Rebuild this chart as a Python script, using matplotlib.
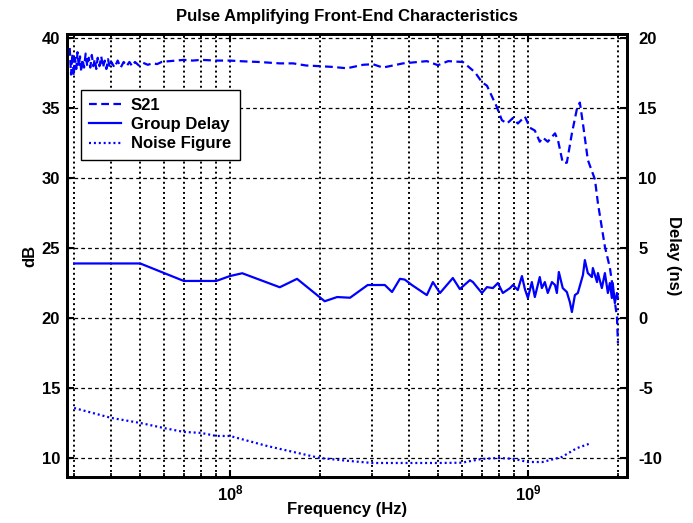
"""
Pulse amplifying front-end: S21, group delay and noise figure vs frequency
"""
import numpy as np
import matplotlib
matplotlib.use('Agg')
import matplotlib.pyplot as plt
from matplotlib.ticker import FixedLocator, NullFormatter

plt.rcParams['font.family'] = ['Liberation Sans', 'DejaVu Sans']
plt.rcParams['font.weight'] = 'bold'
plt.rcParams['axes.unicode_minus'] = False
plt.rcParams['mathtext.fontset'] = 'custom'
plt.rcParams['mathtext.bf'] = 'Liberation Sans:bold'
plt.rcParams['mathtext.rm'] = 'Liberation Sans:bold'

# S21 (dB), frequency in MHz
s21_freq = [29.0, 29.3, 29.6, 29.9, 30.2, 30.5, 30.8, 31.1, 31.4, 31.7, 32.0, 32.4,
            32.8, 33.2, 33.6, 34.0, 34.4, 34.8, 35.2, 35.6, 36.0, 36.5, 37.0, 37.5,
            38.0, 38.5, 39.0, 39.5, 40.0, 41.0, 42.0, 43.0, 44.0, 45.0, 46.0, 47.0,
            48.0, 49.5, 51.0, 53.0, 55.0, 57.0, 59.0, 62.0, 66.0, 70.0, 75.0, 80.0,
            90.0, 100.0, 110.0, 125.0, 147.0, 163.0, 180.0, 200.0, 220.0, 247.0,
            280.0, 302.0, 326.0, 381.0, 458.0, 499.0, 540.0, 605.0, 664.0, 701.0,
            729.0, 787.0, 818.0, 851.0, 891.0, 925.0, 977.0, 1016.0, 1055.0, 1096.0,
            1122.0, 1166.0, 1233.0, 1262.0, 1309.0, 1351.0, 1405.0, 1459.0, 1494.0,
            1530.0, 1589.0, 1679.0, 1718.0, 1813.0, 1884.0, 1990.0, 2005.0]
s21_db = [39.3, 37.4, 38.9, 37.3, 38.6, 37.8, 39.0, 38.0, 38.7, 37.6, 38.5, 37.9,
          38.9, 38.0, 38.6, 37.9, 38.8, 38.0, 38.5, 37.8, 38.6, 38.0, 38.7, 37.9,
          38.4, 37.8, 38.5, 37.9, 38.3, 37.9, 38.4, 37.9, 38.3, 38.0, 38.3, 38.0,
          38.3, 38.05, 38.25, 38.1, 38.2, 38.15, 38.3, 38.35, 38.4, 38.45, 38.4, 38.45,
          38.4, 38.4, 38.35, 38.3, 38.2, 38.2, 38.05, 38.0, 37.95, 37.85,
          38.1, 38.14, 37.9, 38.2, 38.36, 38.07, 38.36, 38.3, 37.57, 36.86,
          36.6, 35.07, 34.14, 33.9, 34.3, 33.9, 34.4, 33.6, 33.4, 32.6,
          32.9, 32.6, 33.2, 32.7, 31.1, 31.1, 33.2, 34.9, 35.4,
          33.9, 31.3, 29.9, 28.2, 25.1, 23.6, 20.1, 18.2]

# group delay (ns), frequency in MHz
gd_freq = [30, 50, 70, 90, 100, 110, 147, 168, 208, 229, 253, 290, 331, 350, 372,
           386, 408, 458, 480, 507, 560, 591, 639, 654, 679, 701, 729, 763, 793, 824,
           871, 891, 925, 955, 977, 1000, 1031, 1055, 1096, 1114, 1140, 1166, 1204,
           1233, 1251, 1270, 1309, 1351, 1383, 1405, 1438, 1471, 1530, 1553, 1589,
           1640, 1652, 1706, 1718, 1771, 1813, 1855, 1884, 1913, 1926, 1958, 1990, 2005]
gd_ns = [3.9, 3.9, 2.65, 2.65, 3.0, 3.2, 2.2, 2.8, 1.2, 1.5, 1.45, 2.36, 2.36, 1.86, 2.8,
         2.75, 2.36, 1.64, 2.57, 1.79, 2.86, 2.07, 2.71, 2.57, 2.14, 1.79, 2.21, 2.14, 2.5, 1.79,
         2.14, 2.36, 2.0, 3.0, 2.07, 1.43, 2.57, 1.5, 2.93, 2.14, 2.57, 1.79, 2.57,
         2.36, 1.79, 3.29, 2.14, 1.86, 1.14, 0.43, 1.64, 1.79, 3.07, 4.14, 3.21,
         2.93, 3.57, 2.57, 3.21, 2.14, 3.21, 1.79, 2.5, 1.43, 2.5, 1.07, 1.79, 1.43]

# noise figure (dB), frequency in MHz
nf_freq = [30, 40, 50, 60, 70, 80, 90, 100, 133, 200, 250, 300, 400, 500, 600, 700,
           800, 900, 1000, 1120, 1300, 1460, 1600]
nf_db = [13.57, 12.86, 12.5, 12.14, 11.86, 11.79, 11.57, 11.57, 10.86, 10.0, 9.79, 9.64,
         9.64, 9.64, 9.66, 9.93, 10.0, 9.93, 9.71, 9.71, 10.07, 10.7, 11.0]

xticks = [1e8, 1e9]
xtick_labels = [r'$\mathbf{10^{8}}$', r'$\mathbf{10^{9}}$']
db_ticks = [10, 15, 20, 25, 30, 35, 40]
ns_ticks = [-10, -5, 0, 5, 10, 15, 20]

blue = '#0000ff'

fig = plt.figure(figsize=(6.93, 5.23), dpi=100)
ax = fig.add_axes([0.0967, 0.088, 0.808, 0.847])
ax2 = ax.twinx()

l1, = ax.plot(np.array(s21_freq) * 1e6, s21_db, color=blue, lw=1.6,
              dashes=(3.5, 2.0), label='S21')
l3, = ax.plot(np.array(nf_freq) * 1e6, nf_db, color=blue, lw=1.6,
              dashes=(0.9, 1.3), label='Noise Figure')
l2, = ax2.plot(np.array(gd_freq) * 1e6, gd_ns, color=blue, lw=1.6, label='Group Delay')

ax.set_xscale('log')
ax.set_xlim(2.84e7, 2.15e9)
ax.set_ylim(8.64, 40.3)
ax2.set_ylim(-11.36, 20.3)

ax.xaxis.set_major_locator(FixedLocator(xticks))
ax.set_xticklabels(xtick_labels, fontsize=12.5)
ax.xaxis.set_minor_locator(FixedLocator([k * 10 ** e for e in (7, 8, 9) for k in range(2, 10)]))
ax.xaxis.set_minor_formatter(NullFormatter())
ax.set_yticks(db_ticks)
ax2.set_yticks(ns_ticks)

# grid: dotted verticals, dashed horizontals
for xv in [k * 10 ** e for e in (7, 8, 9) for k in range(1, 10)]:
    if 2.84e7 < xv < 2.15e9:
        ax.axvline(xv, color='black', lw=1.4, dashes=(1.0, 1.6), zorder=0.5)
for yv in db_ticks:
    ax.axhline(yv, color='black', lw=0.9, dashes=(3.0, 2.5), zorder=0.5)

for a in (ax, ax2):
    for sp in a.spines.values():
        sp.set_linewidth(2.0)
    a.tick_params(direction='in', length=5, width=1.5, labelsize=12)
    a.tick_params(which='minor', direction='in', length=3, width=1.2)
ax.tick_params(axis='x', which='both', top=True, pad=5)
ax.tick_params(axis='y', pad=5)
ax2.tick_params(axis='y', pad=8)

ax.set_title('Pulse Amplifying Front-End Characteristics', fontsize=12,
             fontweight='bold', pad=9)
ax.set_xlabel('Frequency (Hz)', fontsize=12, fontweight='bold', labelpad=-1)
ax.set_ylabel('dB', fontsize=12, fontweight='bold', labelpad=3)
ax2.set_ylabel('Delay (ns)', fontsize=12, fontweight='bold', rotation=-90, labelpad=14)

leg = ax2.legend([l1, l2, l3], ['S21', 'Group Delay', 'Noise Figure'],
                 loc='upper left', bbox_to_anchor=(0.025, 0.874), fontsize=12,
                 fancybox=False, framealpha=1, edgecolor='black', handlelength=1.9,
                 borderpad=0.5, labelspacing=0.25, handletextpad=0.6, borderaxespad=0)
leg.get_frame().set_linewidth(1.0)

plt.savefig('out.png', dpi=100)
